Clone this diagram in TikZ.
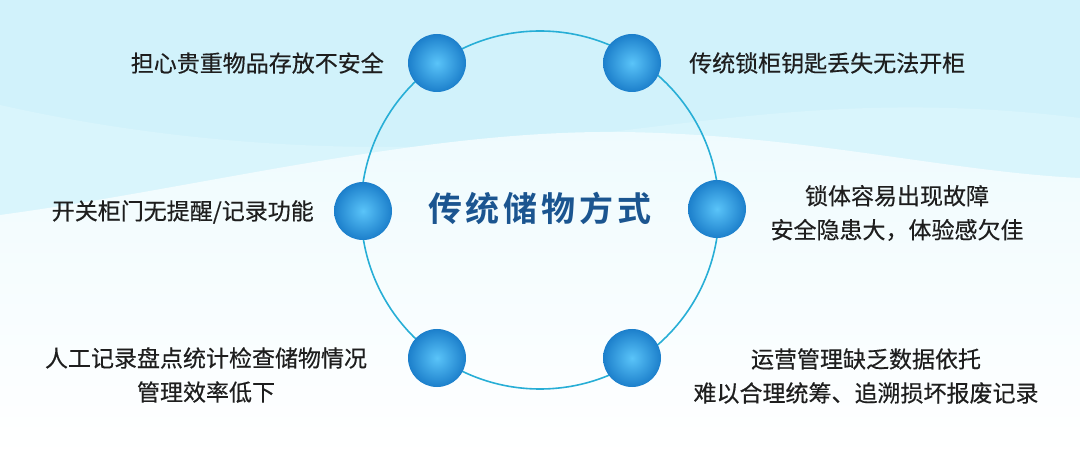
\documentclass[tikz,border=0pt]{standalone}
\usepackage{fontspec}
\newfontfamily\cjk{Noto Sans CJK SC}[FakeBold=0.4]
\newfontfamily\cjkb{Noto Sans CJK SC Bold}
\definecolor{bgtop}{HTML}{D1F2FB}
\definecolor{bgmid}{HTML}{D9F5FC}
\definecolor{bgwhite}{HTML}{EFFBFE}
\definecolor{ring}{HTML}{27AED6}
\definecolor{dotin}{HTML}{5AC4F9}
\definecolor{dotout}{HTML}{1C7FCB}
\definecolor{titlec}{HTML}{1B5590}
\definecolor{labelc}{HTML}{1E1E1E}
\begin{document}
\begin{tikzpicture}[x=1pt,y=-1pt,
  dotball/.style={circle, minimum size=58pt, inner sep=0pt, inner color=dotin, outer color=dotout},
  label/.style={font=\cjk\fontsize{23}{34}\selectfont, text=labelc, inner sep=0pt, align=center},
  titlelabel/.style={font=\cjkb\fontsize{34}{40}\selectfont, text=titlec, inner sep=0pt},
  ringline/.style={draw=ring, line width=1.6pt}
]
\useasboundingbox (0,0) rectangle (1080,457);
% background
\fill[bgtop] (0,0) rectangle (1080,457);
\fill[bgmid] (0,105) .. controls (200,150) and (400,155) .. (560,138)
  .. controls (720,120) and (870,92) .. (1080,118) -- (1080,457) -- (0,457) -- cycle;
\shade[top color=bgwhite, bottom color=white]
  (0,215) .. controls (200,188) and (420,130) .. (620,132)
  .. controls (800,134) and (950,172) .. (1080,178) -- (1080,457) -- (0,457) -- cycle;
% ring
\coordinate (c) at (540,210);
\draw[ringline] (c) circle[radius=179pt];
% dots
\node[dotball] (d1) at (437,63) {};
\node[dotball] (d2) at (632,63) {};
\node[dotball] (d3) at (363,211) {};
\node[dotball] (d4) at (717,209) {};
\node[dotball] (d5) at (437,358) {};
\node[dotball] (d6) at (632,358) {};
% title
\node[titlelabel] (title) at (540,208) {传\kern4pt 统\kern4pt 储\kern4pt 物\kern4pt 方\kern4pt 式};
% labels
\node[label, anchor=east] (t1) at (384,63) {担心贵重物品存放不安全};
\node[label, anchor=west] (t2) at (689,63) {传统锁柜钥匙丢失无法开柜};
\node[label, anchor=east] (t3) at (314,212) {开关柜门无提醒/记录功能};
\node[label] (t4) at (897,213) {锁体容易出现故障\\安全隐患大，体验感欠佳};
\node[label] (t5) at (206,375) {人工记录盘点统计检查储物情况\\管理效率低下};
\node[label] (t6) at (866,376) {运营管理缺乏数据依托\\难以合理统筹、追溯损坏报废记录};
\end{tikzpicture}
\end{document}
